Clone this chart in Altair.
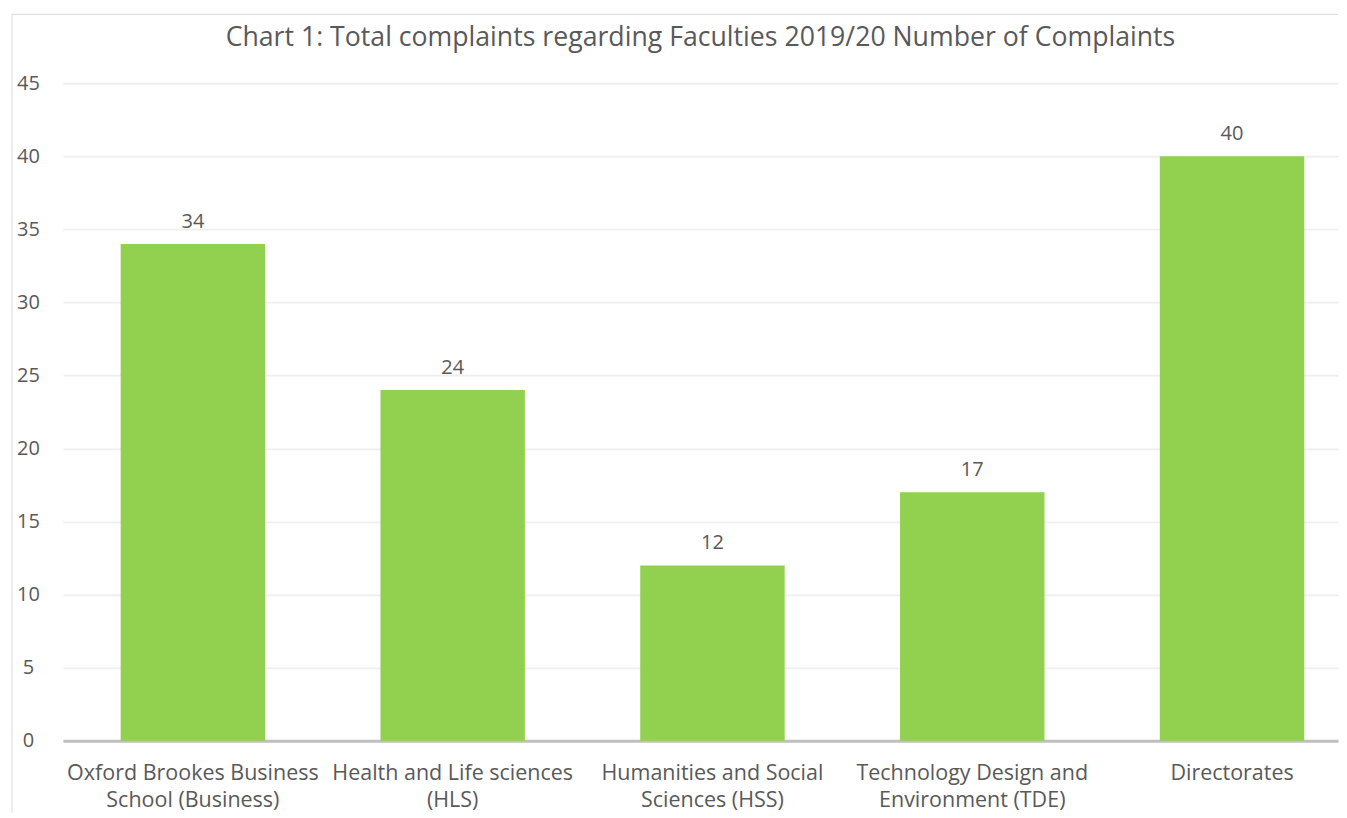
import altair as alt
import pandas as pd

categories = [
    "Oxford Brookes Business|School (Business)",
    "Health and Life sciences|(HLS)",
    "Humanities and Social|Sciences (HSS)",
    "Technology Design and|Environment (TDE)",
    "Directorates",
]
complaints = [34, 24, 12, 17, 40]
title_text = "Chart 1: Total complaints regarding Faculties 2019/20 Number of Complaints"
y_ticks = [0, 5, 10, 15, 20, 25, 30, 35, 40, 45]

df = pd.DataFrame({"category": categories, "complaints": complaints})
title_df = pd.DataFrame({"t": [title_text]})

FONT = "Open Sans"
TXT = "#595959"
W, H = 1276, 658

x = alt.X(
    "category:N",
    sort=categories,
    title=None,
    scale=alt.Scale(paddingInner=0.444, paddingOuter=0.176, align=0.631),
    axis=alt.Axis(
        labelExpr="split(datum.label, '|')",
        labelAngle=0,
        labelFont=FONT,
        labelFontSize=21.5,
        labelColor=TXT,
        labelLineHeight=27,
        labelPadding=22,
        labelBaseline="top",
        ticks=False,
        domainColor="#BFBFBF",
        domainWidth=3,
        grid=False,
        labelLimit=400,
    ),
)

y = alt.Y(
    "complaints:Q",
    title=None,
    scale=alt.Scale(domain=[0, 45], nice=False, zero=True),
    axis=alt.Axis(
        values=y_ticks,
        labelFont=FONT,
        labelFontSize=20,
        labelColor=TXT,
        labelAlign="center",
        labelPadding=35,
        ticks=False,
        domain=False,
        gridColor="#EEEEEE",
        gridWidth=1.8,
    ),
)

frame_left = alt.Chart(title_df).mark_rule(color="#D9D9D9", strokeWidth=1).encode(
    x=alt.value(-51), y=alt.value(-69), y2=alt.value(H + 72)
)
frame_top = alt.Chart(title_df).mark_rule(color="#D9D9D9", strokeWidth=1).encode(
    x=alt.value(-51), x2=alt.value(W), y=alt.value(-69)
)
title = alt.Chart(title_df).mark_text(
    font=FONT, fontSize=26.7, color=TXT, baseline="middle", align="center"
).encode(x=alt.value(W / 2), y=alt.value(-45), text="t:N")

bars = alt.Chart(df).mark_bar(color="#92D050").encode(x=x, y=y)
labels = alt.Chart(df).mark_text(
    baseline="bottom", dy=-12, font=FONT, fontSize=20, color=TXT
).encode(x=x, y=y, text="complaints:Q")

chart = (
    alt.layer(frame_left, frame_top, title, bars, labels)
    .properties(
        width=W,
        height=H,
        background="white",
        padding={"top": 5, "left": 3, "right": 0, "bottom": 0},
    )
    .configure_view(strokeWidth=0)
)

chart.save("out.html", embed_options={"renderer": "svg", "actions": False})
